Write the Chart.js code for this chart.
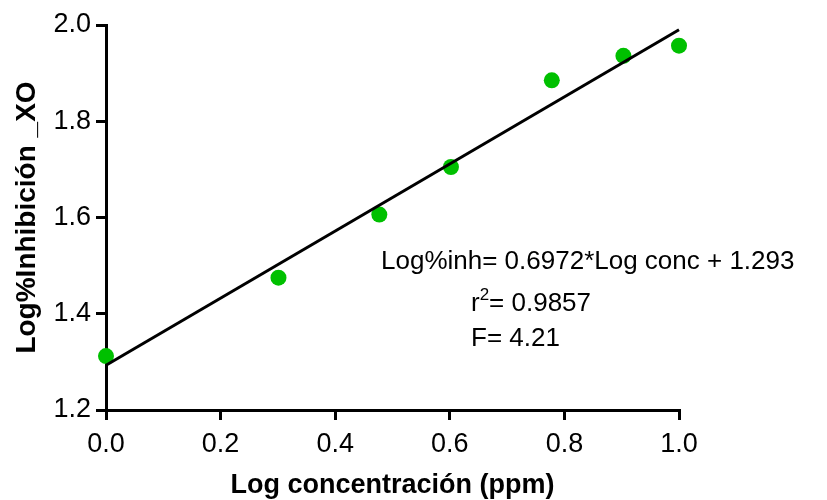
<!DOCTYPE html>
<html>
<head>
<meta charset="utf-8">
<script src="https://cdn.jsdelivr.net/npm/chart.js@4/dist/chart.umd.min.js"></script>
<style>
  html, body { margin: 0; padding: 0; background: #fff; }
  #wrap { width: 827px; height: 500px; }
</style>
</head>
<body>
<div id="wrap"><canvas id="c" width="827" height="500"></canvas></div>
<script>
// Log of concentration (ppm) and log of % inhibition of xanthine oxidase
const logConc = [0.0, 0.301, 0.477, 0.602, 0.778, 0.903, 1.0];
const logInhibition = [1.312, 1.475, 1.606, 1.705, 1.885, 1.936, 1.957];

// Linear regression reported on the plot
const fitSlope = 0.6972;
const fitIntercept = 1.293;
const fitRange = [0.0, 1.0];
const rSquared = '0.9857';
const fValue = '4.21';

// Axis ticks
const xTicks = [0.0, 0.2, 0.4, 0.6, 0.8, 1.0];
const yTicks = [1.2, 1.4, 1.6, 1.8, 2.0];

const FONT = "'Liberation Sans', Arial, Helvetica, sans-serif";

const scatterPoints = logConc.map((x, i) => ({ x: x, y: logInhibition[i] }));
const fitPoints = fitRange.map(x => ({ x: x, y: fitSlope * x + fitIntercept }));

// Equation, r² and F written inside the plot
const equationLabel = {
  id: 'equationLabel',
  afterDatasetsDraw(chart) {
    const ctx = chart.ctx;
    ctx.save();
    ctx.fillStyle = '#000';
    ctx.textBaseline = 'alphabetic';
    ctx.textAlign = 'left';
    ctx.font = '26px ' + FONT;
    ctx.fillText('Log%inh= ' + fitSlope.toFixed(4) + '*Log conc + ' + fitIntercept.toFixed(3), 381, 269);

    let x = 471;
    ctx.fillText('r', x, 311);
    x += ctx.measureText('r').width;
    ctx.font = '17px ' + FONT;
    ctx.fillText('2', x, 300);
    x += ctx.measureText('2').width;
    ctx.font = '26px ' + FONT;
    ctx.fillText('= ' + rSquared, x, 311);

    ctx.fillText('F= ' + fValue, 471, 346);
    ctx.restore();
  }
};

const axisCommon = {
  border: { display: true, color: '#000', width: 3 },
  grid: { drawOnChartArea: false, drawTicks: true, tickLength: 10, color: '#000', lineWidth: 3 }
};

new Chart(document.getElementById('c'), {
  type: 'scatter',
  data: {
    datasets: [
      {
        label: 'Ajuste lineal',
        data: fitPoints,
        showLine: true,
        borderColor: '#000',
        borderWidth: 3,
        pointRadius: 0,
        pointHoverRadius: 0,
        clip: false
      },
      {
        label: 'Log%Inhibición',
        data: scatterPoints,
        backgroundColor: '#00c000',
        borderWidth: 0,
        pointRadius: 8,
        pointHoverRadius: 8,
        clip: false
      }
    ]
  },
  options: {
    responsive: false,
    animation: false,
    devicePixelRatio: 1,
    layout: { padding: { left: 0, right: 148, top: 25, bottom: 0 } },
    plugins: { legend: { display: false }, tooltip: { enabled: false } },
    scales: {
      x: {
        type: 'linear',
        min: 0,
        max: 1,
        ...axisCommon,
        afterBuildTicks: s => { s.ticks = xTicks.map(v => ({ value: v })); },
        afterFit: s => { s.height = 90; },
        ticks: {
          color: '#000',
          padding: 8,
          maxRotation: 0,
          font: { family: FONT, size: 27 },
          callback: v => Number(v).toFixed(1)
        },
        title: {
          display: true,
          text: 'Log concentración (ppm)',
          color: '#000',
          font: { family: FONT, size: 27, weight: 'bold', lineHeight: 1.1 },
          padding: { top: 0, bottom: 0 }
        }
      },
      y: {
        type: 'linear',
        min: 1.2,
        max: 2.0,
        ...axisCommon,
        afterBuildTicks: s => { s.ticks = yTicks.map(v => ({ value: v })); },
        afterFit: s => { s.width = 106; },
        ticks: {
          color: '#000',
          padding: 5,
          font: { family: FONT, size: 27 },
          callback: v => Number(v).toFixed(1)
        },
        title: {
          display: true,
          text: 'Log%Inhibición _XO',
          color: '#000',
          font: { family: FONT, size: 28, weight: 'bold', lineHeight: 1.1 },
          padding: { top: 12, bottom: 0 }
        }
      }
    }
  },
  plugins: [equationLabel]
});
</script>
</body>
</html>
